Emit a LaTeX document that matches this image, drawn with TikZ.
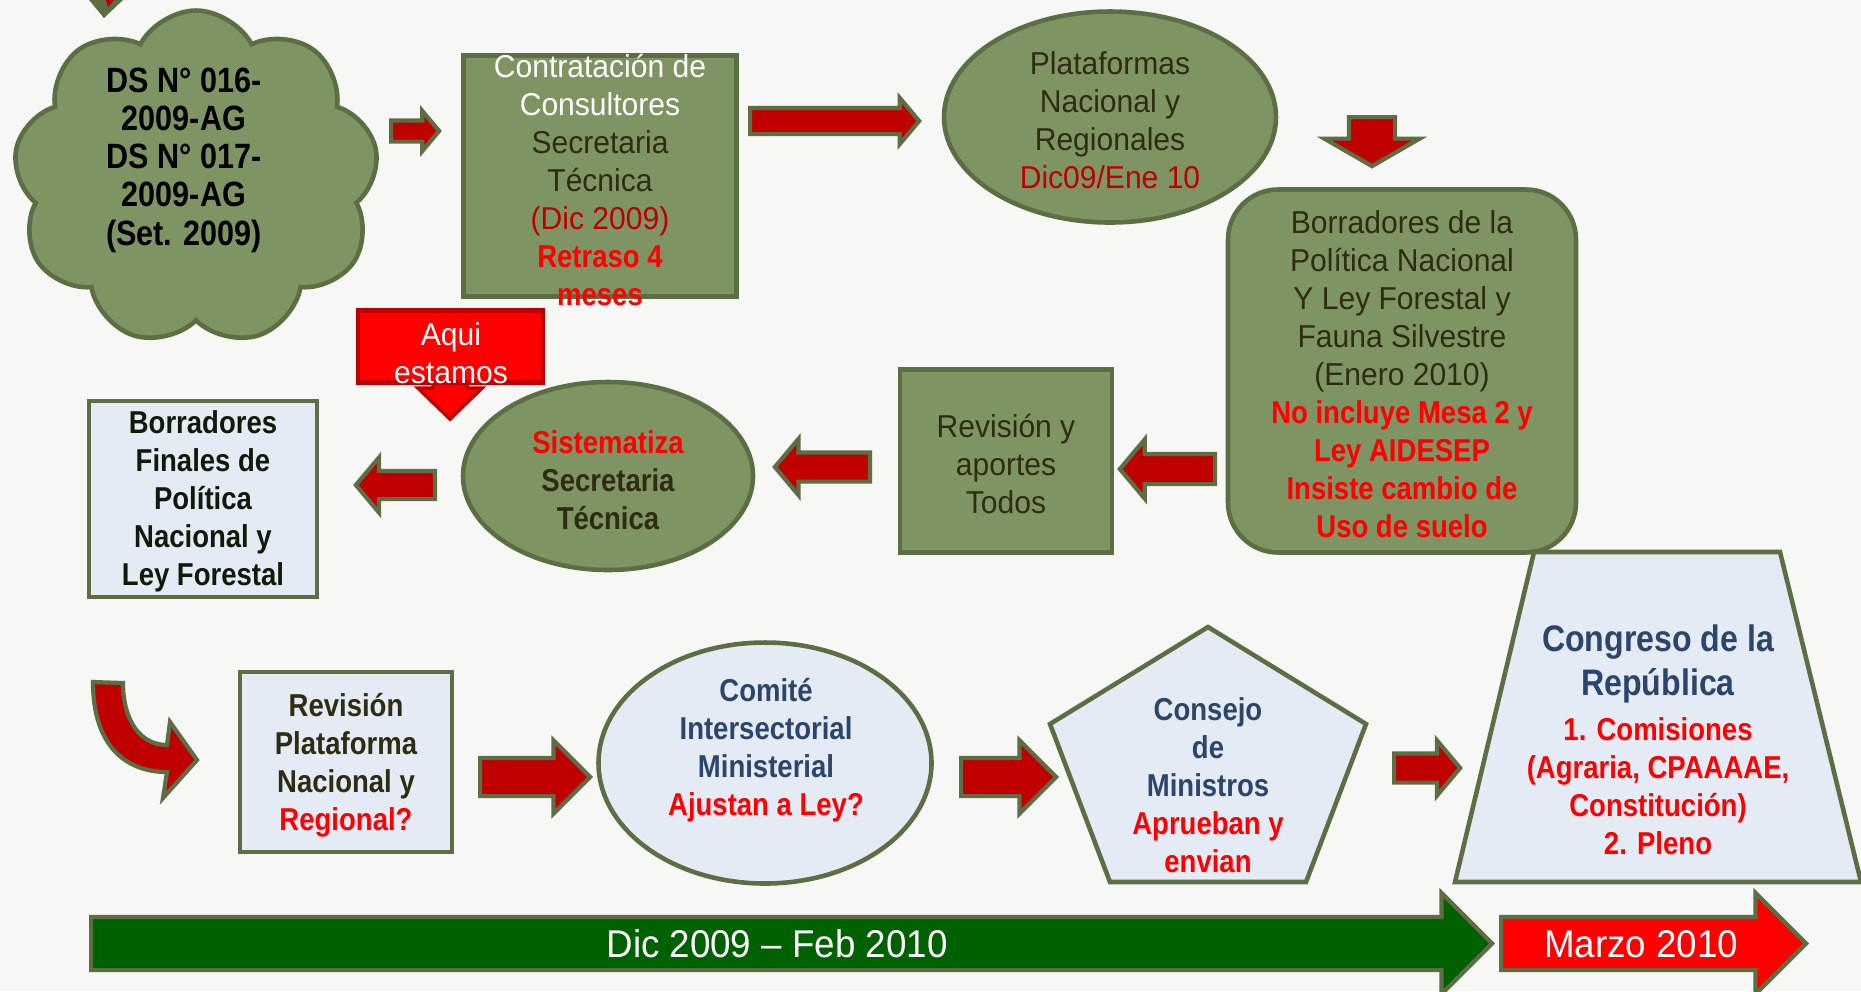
\documentclass[tikz,border=0pt]{standalone}
\usepackage{fontspec}
\setmainfont{Liberation Sans}[FakeStretch=0.95,BoldFeatures={FakeStretch=0.87}]
\usetikzlibrary{shapes.geometric,shapes.symbols,shapes.arrows}
\definecolor{olivefill}{HTML}{7E9463}
\definecolor{olivedark}{HTML}{5D6E45}
\definecolor{palefill}{HTML}{E4EBF4}
\definecolor{navytext}{HTML}{2C466B}
\definecolor{darktext}{HTML}{2E2D12}
\definecolor{nearblack}{HTML}{101A0A}
\definecolor{arrowred}{HTML}{C00000}
\definecolor{brightred}{HTML}{FF0000}
\definecolor{bargreen}{HTML}{006100}
\definecolor{paper}{HTML}{F7F7F5}
\newcommand{\redbold}[1]{\textcolor{brightred}{\bfseries #1}}
\newcommand{\redplain}[1]{\textcolor{arrowred}{#1}}
\begin{document}
\begin{tikzpicture}[x=0.1mm, y=-0.1mm,
  oliveshape/.style = {draw=olivedark, fill=olivefill, line width=1.3pt, inner sep=0pt},
  paleshape/.style = {draw=olivedark, fill=palefill, line width=1.3pt, inner sep=0pt},
  blockarrow/.style = {single arrow, draw=olivedark, fill=arrowred, line width=1.2pt, anchor=tail, single arrow tip angle=100},
  bararrow/.style = {single arrow, draw=olivedark, fill=#1, line width=1.2pt, anchor=tail, inner sep=2.45mm, single arrow tip angle=90, single arrow head extend=2.4mm},
  txt/.style = {align=center, font=\fontsize{9}{10.8}\selectfont, inner sep=0pt},
  txtb/.style = {align=center, font=\fontsize{9}{10.8}\selectfont\bfseries, inner sep=0pt}]
\fill[paper] (0,0) rectangle (1861,991);
\useasboundingbox (0,0) rectangle (1861,991);
\draw[fill=olivedark, draw=olivedark] (90,0) -- (122,0) -- (104,17) -- cycle;
\fill[arrowred] (106,0) -- (114,0) -- (108,7) -- cycle;

\node[oliveshape, cloud, cloud puffs=9, cloud puff arc=125, cloud ignores aspect, minimum width=36.5mm, minimum height=33.5mm] (ds) at (196,178) {};
\node[txtb, font=\fontsize{10}{10.9}\selectfont\bfseries, text=black] (ds-t) at (184,160) {DS N° 016-\\2009-AG\\DS N° 017-\\2009-AG\\(Set. 2009)};
\node[blockarrow, inner sep=0.85mm, minimum height=4.8mm, single arrow head extend=0.95mm] (a1) at (389,131) {};

\node[oliveshape, rectangle, minimum width=27.3mm, minimum height=24.1mm] (hire) at (600,176) {};
\node[txt, text=darktext] (hire-t) at (600,180) {\textcolor{white}{Contratación de}\\\textcolor{white}{Consultores}\\Secretaria\\Técnica\\\redplain{(Dic 2009)}\\\redbold{Retraso 4}\\\redbold{meses}};
\node[blockarrow, inner sep=1.1mm, minimum height=16.9mm, single arrow head extend=1mm] (a2) at (748,121) {};

\node[oliveshape, ellipse, minimum width=33.2mm, minimum height=21.1mm] (forums) at (1110,117) {};
\node[txt, text=darktext] (forums-t) at (1110,120) {Plataformas\\Nacional y\\Regionales\\\redplain{Dic09/Ene 10}};
\node[blockarrow, rotate=-90, inner xsep=0pt, inner ysep=2.1mm, minimum height=4.9mm, single arrow head extend=2.45mm, single arrow tip angle=120] (a3) at (1372,115) {};

\node[oliveshape, rectangle, rounded corners=5mm, minimum width=34.8mm, minimum height=36.3mm] (drafts) at (1402,371) {};
\node[txt, text=darktext] (drafts-t) at (1402,374) {Borradores de la\\Política Nacional\\Y Ley Forestal y\\Fauna Silvestre\\(Enero 2010)\\\redbold{No incluye Mesa 2 y}\\\redbold{Ley AIDESEP}\\\redbold{Insiste cambio de}\\\redbold{Uso de suelo}};
\node[blockarrow, shape border rotate=180, inner sep=1.3mm, minimum height=9.5mm, single arrow head extend=1.45mm] (a4) at (1217,469) {};

\node[oliveshape, rectangle, minimum width=21.2mm, minimum height=18.3mm] (review) at (1006,461) {};
\node[txt, text=darktext] (review-t) at (1006,464) {Revisión y\\aportes\\Todos};
\node[blockarrow, shape border rotate=180, inner sep=1.25mm, minimum height=9.5mm, single arrow head extend=1.35mm] (a5) at (872,467) {};

\node[oliveshape, ellipse, minimum width=29mm, minimum height=18.8mm] (sys) at (608,476) {};
\node[txtb, text=darktext] (sys-t) at (608,480) {\textcolor{brightred}{Sistematiza}\\Secretaria\\Técnica};

\draw[fill=brightred, draw=arrowred, line width=1pt] (433,376) -- (467,376) -- (467,388) -- (482,388) -- (450,419) -- (418,388) -- (433,388) -- cycle;
\node[rectangle, draw=arrowred, fill=brightred, line width=1.2pt, minimum width=18.5mm, minimum height=7.2mm] (here) at (450.5,346.5) {};
\node[txt, text=white] (here-t) at (451,353) {Aqui\\estamos};
\node[blockarrow, shape border rotate=180, inner sep=1.2mm, minimum height=7.9mm, single arrow head extend=1.35mm] (a6) at (437,485) {};

\node[paleshape, rectangle, minimum width=22.8mm, minimum height=19.6mm] (final) at (203,499) {};
\node[txtb, text=nearblack] (final-t) at (203,501) {Borradores\\Finales de\\Política\\Nacional y\\Ley Forestal};

\draw[fill=arrowred, draw=olivedark, line width=1.2pt] (93,682) .. controls (93,745) and (125,772) .. (167,772) -- (163,798) -- (197,760) -- (170,722) -- (167,745) .. controls (140,745) and (123,720) .. (123,683) -- cycle;

\node[paleshape, rectangle, minimum width=21.2mm, minimum height=18mm] (platrev) at (346,762) {};
\node[txtb, text=darktext] (platrev-t) at (346,765) {Revisión\\Plataforma\\Nacional y\\\textcolor{brightred}{Regional?}};
\node[blockarrow, inner sep=1.7mm, minimum height=11mm, single arrow head extend=1.75mm, single arrow tip angle=90] (a7) at (478,777) {};

\node[paleshape, ellipse, minimum width=33.3mm, minimum height=24.1mm] (cim) at (765,763) {};
\node[txtb, text=navytext] (cim-t) at (766,750) {Comité\\Intersectorial\\Ministerial\\\textcolor{brightred}{Ajustan a Ley?}};
\node[blockarrow, inner sep=1.7mm, minimum height=9.5mm, single arrow head extend=1.75mm, single arrow tip angle=90] (a8) at (959,777) {};

\draw[draw=olivedark, fill=palefill, line width=1.3pt] (1208,627) -- (1366,724) -- (1306,882) -- (1110,882) -- (1050,724) -- cycle;
\node[txtb, text=navytext] (council) at (1208,785) {Consejo\\de\\Ministros\\\textcolor{brightred}{Aprueban y}\\\textcolor{brightred}{envian}};
\node[blockarrow, inner sep=1.25mm, minimum height=6.6mm, single arrow head extend=1.3mm] (a9) at (1392,768) {};

\draw[draw=olivedark, fill=palefill, line width=1.3pt] (1534,552) -- (1780,552) -- (1861,882) -- (1455,882) -- cycle;
\node[txtb, font=\fontsize{10.5}{12.6}\selectfont\bfseries, text=navytext] (congress) at (1658,664) {Congreso de la\\República};
\node[txtb, text=brightred] (congress-t) at (1658,786) {1. Comisiones\\(Agraria, CPAAAAE,\\Constitución)\\2. Pleno};

\node[bararrow=bargreen, minimum height=140.1mm] (period) at (89,943.5) {};
\node[txt, font=\fontsize{11}{13}\selectfont, text=white] (period-t) at (777,944) {Dic 2009 – Feb 2010};
\node[bararrow=brightred, minimum height=30.5mm] (march) at (1499,943.5) {};
\node[txt, font=\fontsize{11}{13}\selectfont, text=white] (march-t) at (1641,944) {Marzo 2010};
\end{tikzpicture}
\end{document}
